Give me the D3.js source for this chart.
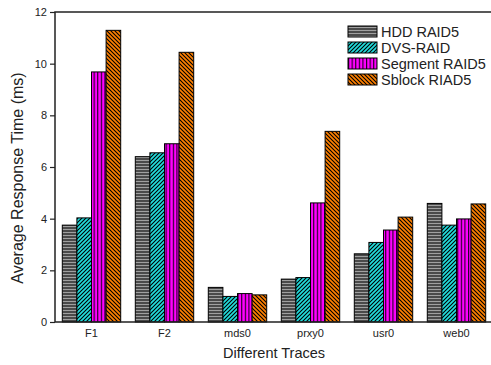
<!DOCTYPE html>
<html>
<head>
<meta charset="utf-8">
<script src="https://cdn.jsdelivr.net/npm/d3@7"></script>
<style>
  body { margin: 0; background: #fff; }
  text { font-family: "Liberation Sans", Arial, sans-serif; fill: #222; }
</style>
</head>
<body>
<svg id="chart" width="491" height="365"></svg>
<script>
// values
const traces = ['F1', 'F2', 'mds0', 'prxy0', 'usr0', 'web0'];
const seriesNames = ['HDD RAID5', 'DVS-RAID', 'Segment RAID5', 'Sblock RIAD5'];
const hddRaid5 = [3.75, 6.40, 1.34, 1.66, 2.64, 4.59];
const dvsRaid = [4.03, 6.55, 0.99, 1.72, 3.08, 3.75];
const segmentRaid5 = [9.68, 6.90, 1.10, 4.61, 3.56, 3.99];
const sblockRiad5 = [11.29, 10.44, 1.05, 7.38, 4.06, 4.57];
const yTicks = [0, 2, 4, 6, 8, 10, 12];

const series = [hddRaid5, dvsRaid, segmentRaid5, sblockRiad5];

const svg = d3.select('#chart');
const plotL = 55, plotR = 493, plotT = 12, plotB = 322;

const x = d3.scaleBand().domain(traces).range([plotL, plotR]).paddingInner(0.2).paddingOuter(0.1);
const xs = d3.scaleBand().domain(d3.range(4)).range([0, x.bandwidth()]);
const y = d3.scaleLinear().domain([0, 12]).range([plotB, plotT]);

// hatch patterns
const defs = svg.append('defs');
function pat(id, w, h, bg, draw) {
    const p = defs.append('pattern').attr('id', id)
        .attr('patternUnits', 'userSpaceOnUse').attr('width', w).attr('height', h);
    p.append('rect').attr('width', w).attr('height', h).attr('fill', bg);
    draw(p);
}
pat('p0', 6, 3, '#4a4a4a', p => p.append('line').attr('x1', 0).attr('x2', 6).attr('y1', 1.5).attr('y2', 1.5)
    .attr('stroke', '#a0a0a0').attr('stroke-width', 1));
pat('p1', 4, 4, '#22dddd', p => {
    p.append('path').attr('d', 'M-1,1 l2,-2 M0,4 l4,-4 M3,5 l2,-2').attr('stroke', '#000').attr('stroke-width', 1.1);
});
pat('p2', 3.6, 6, '#ff00ff', p => p.append('line').attr('x1', 0.6).attr('x2', 0.6).attr('y1', 0).attr('y2', 6)
    .attr('stroke', '#000').attr('stroke-width', 1));
pat('p3', 4, 4, '#ff8000', p => {
    p.append('path').attr('d', 'M-1,3 l2,2 M0,0 l4,4 M3,-1 l2,2').attr('stroke', '#000').attr('stroke-width', 1.1);
});

// bars
const groups = svg.append('g').selectAll('g')
    .data(series)
    .enter().append('g');

groups.selectAll('rect')
    .data((s, si) => s.map((v, i) => ({ v: v, i: i, si: si })))
    .enter().append('rect')
    .attr('x', d => x(traces[d.i]) + xs(d.si))
    .attr('y', d => y(d.v))
    .attr('width', xs.bandwidth())
    .attr('height', d => y(0) - y(d.v))
    .attr('fill', d => 'url(#p' + d.si + ')')
    .attr('stroke', '#000')
    .attr('stroke-width', 1);

// frame
svg.append('path')
    .attr('d', `M${plotL},${plotB}V${plotT}H${plotR + 2}M${plotL},${plotB}H${plotR + 2}`)
    .attr('fill', 'none').attr('stroke', '#222').attr('stroke-width', 1.5);

// y axis
const yAxis = svg.append('g').attr('transform', `translate(${plotL},0)`)
    .call(d3.axisLeft(y).tickValues(yTicks).tickSize(5).tickPadding(3));
yAxis.select('.domain').remove();
yAxis.selectAll('line').attr('stroke', '#222').attr('stroke-width', 1.2);
yAxis.selectAll('text').attr('font-size', 11).attr('fill', '#222')
    .style('font-family', '"Liberation Sans", Arial, sans-serif');

// x labels
svg.append('g').selectAll('text')
    .data(traces)
    .enter().append('text')
    .attr('x', d => x(d) + x.bandwidth() / 2)
    .attr('y', 337)
    .attr('text-anchor', 'middle')
    .attr('font-size', 11)
    .text(d => d);

// axis titles
svg.append('text')
    .attr('x', 274).attr('y', 358)
    .attr('text-anchor', 'middle').attr('font-size', 14.5)
    .text('Different Traces');
svg.append('text')
    .attr('transform', 'translate(23,178) rotate(-90)')
    .attr('text-anchor', 'middle').attr('font-size', 16)
    .text('Average Response Time (ms)');

// legend
const legend = svg.append('g').selectAll('g')
    .data(seriesNames)
    .enter().append('g')
    .attr('transform', (d, i) => `translate(348,${26 + i * 16})`);
legend.append('rect')
    .attr('width', 29).attr('height', 11)
    .attr('fill', (d, i) => 'url(#p' + i + ')')
    .attr('stroke', '#000').attr('stroke-width', 1);
legend.append('text')
    .attr('x', 33).attr('y', 10.5)
    .attr('font-size', 14.5)
    .text(d => d);
</script>
</body>
</html>
